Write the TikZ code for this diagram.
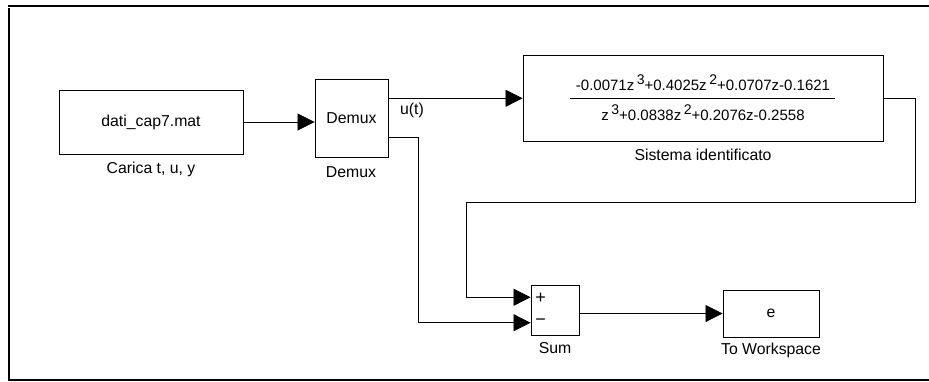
\documentclass[tikz,border=0pt]{standalone}
\usepackage{fontspec}
\setmainfont{Liberation Sans}
\usetikzlibrary{arrows.meta,calc}
\newcommand\zsup[1]{\,\raisebox{0.42em}{\fontsize{14}{14}\selectfont#1}}
\begin{document}
\begin{tikzpicture}[x=1pt,y=-1pt,
  every node/.style={font=\fontsize{15.8}{18}\selectfont, inner sep=0pt},
  frac/.style={font=\fontsize{15}{17}\selectfont},
  sgn/.style={font=\fontsize{18}{18}\selectfont},
  blk/.style={draw, line width=0.9pt, fill=white, rectangle,
    preaction={draw=gray!60, line width=1.2pt, transform canvas={shift={(0.8pt,-0.8pt)}}}},
  wire/.style={line width=0.8pt},
  arr/.style={wire, -{Triangle[length=17pt,width=17pt]}},
  frame/.style={line width=2pt}]
\useasboundingbox (0,0) rectangle (929,381);
% frame
\draw[frame] (8,5.5) -- (929,5.5);
\draw[frame] (9,8) -- (9,380.5);
\draw[frame] (8,379.5) -- (929,379.5);
% blocks
\node[blk, minimum width=184pt, minimum height=64pt] (src) at (151,122) {dati\_cap7.mat};
\node (srcl) at (151,169) {Carica t, u, y};
\node[blk, minimum width=73pt, minimum height=78pt] (dmx) at (351.5,118) {Demux};
\node (dmxl) at (351,172) {Demux};
\node[blk, minimum width=360pt, minimum height=86pt] (tf) at (703,98) {};
\node[frac] (num) at (703,83) {-0.0071z\zsup{3}+0.4025z\zsup{2}+0.0707z-0.1621};
\node[frac] (den) at (703,113) {z\zsup{3}+0.0838z\zsup{2}+0.2076z-0.2558};
\draw[wire] (570,98) -- (835,98);
\node (tfl) at (703,155) {Sistema identificato};
\node[blk, minimum width=48pt, minimum height=50pt] (sum) at (555,310) {};
\node[sgn] (plus) at (540.5,298) {+};
\node[sgn] (minus) at (540.5,322) {−};
\node (suml) at (555,348) {Sum};
\node[blk, minimum width=96pt, minimum height=47pt] (tow) at (771,313.5) {e};
\node (towl) at (771,350) {To Workspace};
\node (ut) at (412,110) {u(t)};
% ports
\coordinate (d1) at ($(dmx.north east)!0.25!(dmx.south east)$);
\coordinate (d2) at ($(dmx.north east)!0.75!(dmx.south east)$);
\coordinate (s1) at ($(sum.north west)!0.25!(sum.south west)$);
\coordinate (s2) at ($(sum.north west)!0.75!(sum.south west)$);
% connectors
\draw[arr] (src.east) -- (src.east -| dmx.west);
\draw[arr] (d1) -- (d1 -| tf.west);
\draw[arr] (d2) -| ([xshift=-112pt]s2) -- (s2);
\draw[arr] (tf.east) -- ++(32,0) -- ++(0,104) -| ([xshift=-64pt]s1) -- (s1);
\draw[arr] (sum.east |- tow.west) -- (tow.west);
\end{tikzpicture}
\end{document}
